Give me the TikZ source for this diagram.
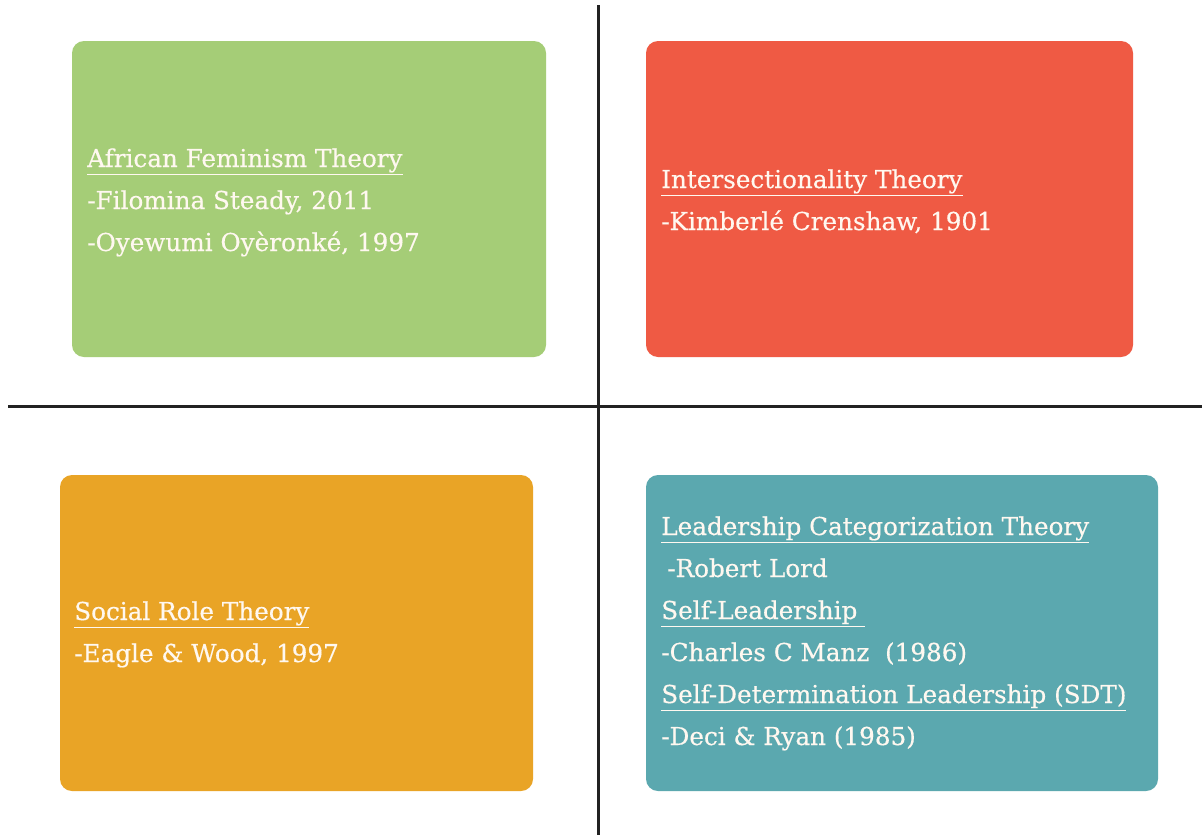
\documentclass[tikz,border=0pt]{standalone}
\usepackage{fontspec}
\setmainfont{DejaVu Serif}[FakeBold=0.4]
\definecolor{boxgreen}{HTML}{A5CD77}
\definecolor{boxred}{HTML}{EF5A44}
\definecolor{boxorange}{HTML}{E9A426}
\definecolor{boxteal}{HTML}{5BA8AF}
\definecolor{rule}{HTML}{222222}
\definecolor{txt}{HTML}{FFF8F0}
\tikzset{
  card/.style={rounded corners=12*0.75pt},
  divider/.style={draw=rule, line width=3*0.75pt},
  cardline/.style={anchor=base west, inner sep=0pt, text=txt,
    font=\fontsize{18.5pt}{22pt}\selectfont},
}
\newcommand{\ttl}[1]{\underline{#1}}
\begin{document}
\begin{tikzpicture}[x=0.75pt,y=-0.75pt]
  \useasboundingbox (0,0) rectangle (1202,835);
  \fill[white] (0,0) rectangle (1202,835);
  % quadrant dividers
  \coordinate (vtop) at (598,5);
  \coordinate (vbot) at (598,835);
  \coordinate (hl) at (8,406);
  \coordinate (hr) at (1202,406);
  \draw[divider] (vtop) -- (vbot);
  \draw[divider] (hl) -- (hr);
  % cards
  \fill[card, boxgreen] (72,41) rectangle (546,357);
  \fill[card, boxred] (646,41) rectangle (1133,357);
  \fill[card, boxorange] (60,475) rectangle (533,791);
  \fill[card, boxteal] (646,475) rectangle (1158,791);
  % green card
  \node[cardline] (af1) at (87,167) {\ttl{African Feminism Theory}};
  \node[cardline] (af2) at (87,209) {-Filomina Steady, 2011};
  \node[cardline] (af3) at (87,251) {-Oyewumi Oyèronké, 1997};
  % red card
  \node[cardline] (in1) at (661,188) {\ttl{Intersectionality Theory}};
  \node[cardline] (in2) at (661,230) {-Kimberlé Crenshaw, 1901};
  % orange card
  \node[cardline] (so1) at (74,620) {\ttl{Social Role Theory}};
  \node[cardline] (so2) at (74,662) {-Eagle \& Wood, 1997};
  % teal card
  \node[cardline] (le1) at (661,535) {\ttl{Leadership Categorization Theory}};
  \node[cardline] (le2) at (667,577) {-Robert Lord};
  \node[cardline] (le3) at (661,619) {\ttl{Self-Leadership\ }};
  \node[cardline] (le4) at (661,661) {-Charles C Manz\ \ (1986)};
  \node[cardline] (le5) at (661,703) {\ttl{Self-Determination Leadership (SDT)}};
  \node[cardline] (le6) at (661,745) {-Deci \& Ryan (1985)};
\end{tikzpicture}
\end{document}
